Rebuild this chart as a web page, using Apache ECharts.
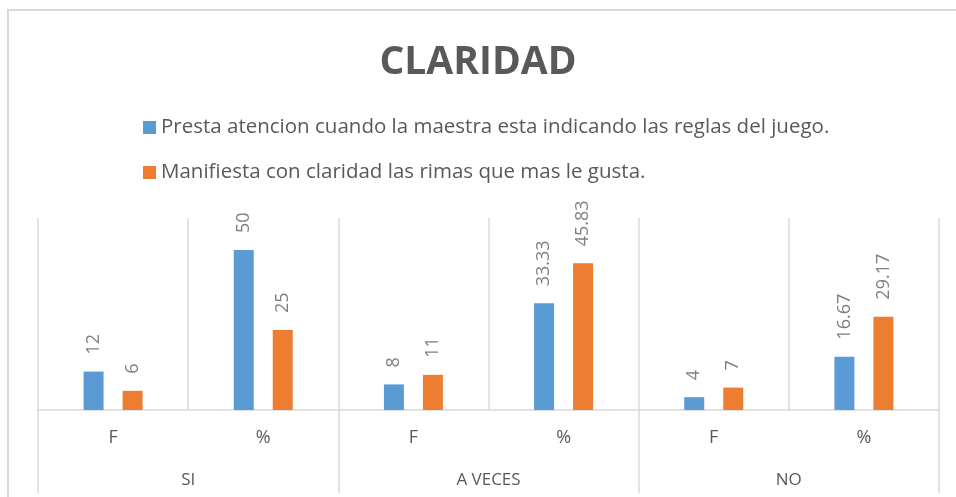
<!DOCTYPE html>
<html><head><meta charset="utf-8">
<script src="https://cdn.jsdelivr.net/npm/echarts@6/dist/echarts.min.js"></script>
<style>html,body{margin:0;padding:0;background:#fff}#c{width:956px;height:497px}</style>
</head><body><div id="c"></div>
<script>
const chartTitle = 'CLARIDAD';
const subCategories = ['F', '%', 'F', '%', 'F', '%'];
const groups = ['SI', 'A VECES', 'NO'];
const seriesNames = [
  'Presta atencion cuando la maestra esta indicando las reglas del juego.',
  'Manifiesta con claridad las rimas que mas le gusta.'
];
const presta = [12, 50, 8, 33.33, 4, 16.67];
const manifiesta = [6, 25, 11, 45.83, 7, 29.17];
const colors = ['#5b9bd5', '#ed7d31'];

const FONT = 'Open Sans';
const GRID_LINE = { color: '#d9d9d9', width: 1.5 };

const labelCfg = {
  show: true,
  position: 'top',
  rotate: 90,
  align: 'left',
  verticalAlign: 'middle',
  distance: 17,
  fontFamily: FONT,
  fontSize: 18,
  color: '#7f7f7f'
};

const chart = echarts.init(document.getElementById('c'), null, { renderer: 'canvas' });
chart.setOption({
  animation: false,
  backgroundColor: '#ffffff',
  color: colors,
  title: {
    text: chartTitle,
    left: 'center',
    top: 38,
    textStyle: { fontFamily: FONT, fontSize: 39, fontWeight: 'bold', color: '#595959' }
  },
  legend: {
    orient: 'vertical',
    left: 138,
    top: 112,
    itemWidth: 13,
    itemHeight: 13,
    itemGap: 24,
    icon: 'rect',
    data: seriesNames,
    textStyle: { fontFamily: FONT, fontSize: 20.5, color: '#595959', lineHeight: 21 }
  },
  graphic: [{
    type: 'rect',
    shape: { x: 8, y: 10, width: 1200, height: 800 },
    style: { fill: 'none', stroke: '#d9d9d9', lineWidth: 2 },
    silent: true
  }],
  grid: { left: 38, right: 17, top: 218, bottom: 87 },
  xAxis: [{
    type: 'category',
    data: subCategories,
    boundaryGap: true,
    axisLine: { show: true, lineStyle: GRID_LINE },
    axisTick: { show: false },
    splitLine: { show: true, lineStyle: GRID_LINE },
    axisLabel: { margin: 19, fontFamily: FONT, fontSize: 18, color: '#595959', interval: 0 }
  }, {
    type: 'category',
    data: groups,
    position: 'bottom',
    boundaryGap: true,
    axisLine: { show: false },
    axisTick: { show: true, length: 83, lineStyle: GRID_LINE },
    splitLine: { show: false },
    axisLabel: { margin: 62, fontFamily: FONT, fontSize: 17, color: '#595959', interval: 0 }
  }],
  yAxis: {
    type: 'value',
    min: 0,
    max: 60,
    show: false,
    splitLine: { show: false }
  },
  series: [{
    name: seriesNames[0],
    type: 'bar',
    data: presta,
    barWidth: 20,
    barGap: '95%',
    itemStyle: { color: colors[0] },
    label: labelCfg
  }, {
    name: seriesNames[1],
    type: 'bar',
    data: manifiesta,
    barWidth: 20,
    barGap: '95%',
    itemStyle: { color: colors[1] },
    label: labelCfg
  }]
});
</script></body></html>
